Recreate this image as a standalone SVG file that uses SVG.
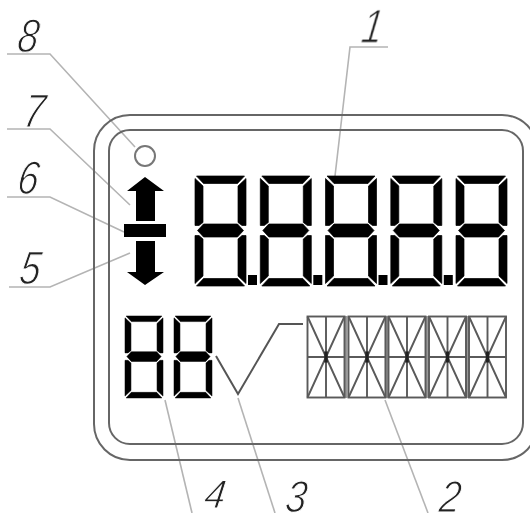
<svg xmlns="http://www.w3.org/2000/svg" xmlns:xlink="http://www.w3.org/1999/xlink" width="530" height="513" viewBox="0 0 530 513">
<style>
.frame{fill:none;stroke:#666;stroke-width:2}
.lead{fill:none;stroke:#b4b4b4;stroke-width:1.6}
.seg{fill:#000;stroke:#000;stroke-width:.7}
.cell{fill:none;stroke:#5a5a5a;stroke-width:1.9}
.sep{fill:#999}
.lab{font-family:"Liberation Sans",Arial,sans-serif;font-style:italic;font-size:47px;fill:#222;stroke:#fff;stroke-width:1.2px}
</style>
<defs>
<filter id="soft" x="0" y="0" width="100%" height="100%"><feGaussianBlur stdDeviation=".5"/></filter>
<g id="digit">
<path class="seg" d="M1.500 0H49.500L42.500 7.500H8.500Z"/>
<path class="seg" d="M0 2.500L8 10V46.500L4 49.500H0Z"/>
<path class="seg" d="M51 2.500L43 10V46.500L47 49.500H51Z"/>
<path class="seg" d="M2.500 54.500L8.500 48H42.500L48.500 54.500L42.500 61H8.500Z"/>
<path class="seg" d="M0 59.500H4L8 63V100L0 107.500Z"/>
<path class="seg" d="M51 59.500H47L43 63V100L51 107.500Z"/>
<path class="seg" d="M1.500 110L8.500 102.500H42.500L49.500 110Z"/>
</g>
<g id="cell">
<rect class="cell" x="0" y="0" width="37" height="81"/>
<path class="cell" d="M18.500 0V81M0 40.500H37M0 0L37 81M37 0L0 81"/>
<rect x="16.800" y="35" width="3.400" height="11" fill="#222"/>
</g>
</defs>
<g filter="url(#soft)">
<g id="connectors">
<path class="lead" d="M7 54H50L135 147"/>
<path class="lead" d="M7 129H50L130 205"/>
<path class="lead" d="M7 197H50L124 232"/>
<path class="lead" d="M9 287H50L130 253"/>
<path class="lead" d="M388 47H350L335 176"/>
<path class="lead" d="M385 400L428 513"/>
<path class="lead" d="M238 398L275 513"/>
<path class="lead" d="M165 400L192 513"/>
</g>
<g id="frame">
<rect class="frame" x="94" y="115" width="444" height="345" rx="36"/>
<rect class="frame" x="109" y="130" width="414" height="314" rx="21"/>
</g>
<g id="indicator"><circle cx="145" cy="156" r="10" fill="none" stroke="#777" stroke-width="2"/></g>
<g id="arrows">
<polygon points="145,177 164,191 155,191 155,221 136,221 136,191 127,191"/>
<rect x="124" y="224" width="42" height="13"/>
<polygon points="136,241 155,241 155,272 164,272 145,285 127,272 136,272"/>
</g>
<g id="main-display">
<use xlink:href="#digit" href="#digit" transform="translate(195 176)"/>
<use xlink:href="#digit" href="#digit" transform="translate(260.300 176)"/>
<use xlink:href="#digit" href="#digit" transform="translate(325.500 176)"/>
<use xlink:href="#digit" href="#digit" transform="translate(390.800 176)"/>
<use xlink:href="#digit" href="#digit" transform="translate(456 176)"/>
<rect x="248" y="275" width="9" height="10"/>
<rect x="313.300" y="275" width="9" height="10"/>
<rect x="378.500" y="275" width="9" height="10"/>
<rect x="443.800" y="275" width="9" height="10"/>
</g>
<g id="small-display">
<use xlink:href="#digit" href="#digit" transform="translate(125 316) scale(.745)"/>
<use xlink:href="#digit" href="#digit" transform="translate(174 316) scale(.745)"/>
</g>
<g id="check"><path d="M216 356L238 394L279 324H303" fill="none" stroke="#555" stroke-width="2"/></g>
<g id="text-display">
<rect class="sep" x="344.500" y="316" width="3" height="82"/>
<rect class="sep" x="384.800" y="316" width="4" height="82"/>
<rect class="sep" x="425" y="316" width="4" height="82"/>
<rect class="sep" x="465.500" y="316" width="3" height="82"/>
<use xlink:href="#cell" href="#cell" transform="translate(307.500 316.500)"/>
<use xlink:href="#cell" href="#cell" transform="translate(348.500 316.500)"/>
<use xlink:href="#cell" href="#cell" transform="translate(388.500 316.500)"/>
<use xlink:href="#cell" href="#cell" transform="translate(429 316.500)"/>
<use xlink:href="#cell" href="#cell" transform="translate(469 316.500)"/>
</g>
<g id="labels">
<text class="lab" transform="translate(16 52) skewX(-8) scale(.8 1)">8</text>
<text class="lab" transform="translate(22 127) skewX(-8) scale(.8 1)">7</text>
<text class="lab" transform="translate(16 194) skewX(-8) scale(.8 1)">6</text>
<text class="lab" transform="translate(18 284) skewX(-8) scale(.8 1)">5</text>
<text class="lab" transform="translate(360 43) skewX(-8) scale(.8 1)">1</text>
<text class="lab" transform="translate(203 508) skewX(-8) scale(.8 .85)">4</text>
<text class="lab" transform="translate(284 512) skewX(-8) scale(.8 .95)">3</text>
<text class="lab" transform="translate(438 512) skewX(-8) scale(.8 .95)">2</text>
</g>
</g>
</svg>
